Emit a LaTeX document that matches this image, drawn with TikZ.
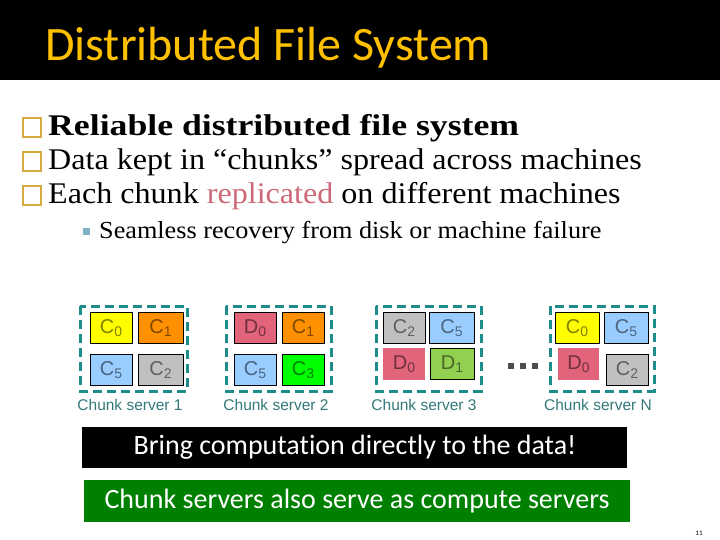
\documentclass[tikz,border=0pt]{standalone}
\usepackage{fontspec}
\usepackage{xcolor}
\newfontfamily\titlefont{Carlito}
\newfontfamily\bannerfont[Ligatures=NoCommon]{Carlito}
\newfontfamily\bodyfont[FakeStretch=1.07]{Liberation Serif}
\newfontfamily\boldbody[FakeStretch=1.19]{Liberation Serif}
\newfontfamily\cellfont{Liberation Sans}

\definecolor{titleyellow}{RGB}{255,192,0}
\definecolor{bulletgold}{RGB}{214,172,60}
\definecolor{subbullet}{RGB}{127,178,198}
\definecolor{replred}{RGB}{205,105,120}
\definecolor{srvteal}{RGB}{31,140,140}
\definecolor{lbltext}{RGB}{50,120,120}
\definecolor{cyel}{RGB}{255,255,0}
\definecolor{corange}{RGB}{255,145,0}
\definecolor{cblue}{RGB}{153,204,255}
\definecolor{cgray}{RGB}{192,192,192}
\definecolor{cred}{RGB}{226,100,122}
\definecolor{cgreen}{RGB}{0,255,0}
\definecolor{cyg}{RGB}{146,208,80}
\definecolor{boxgreen}{RGB}{0,128,0}

\tikzset{
  cell/.style={draw=black, line width=0.7pt, anchor=north west, inner sep=0pt,
    minimum width=42pt, minimum height=31pt, text=black, text opacity=0.5,
    font=\cellfont\fontsize{20}{20}\selectfont},
  srvbox/.style={draw=srvteal, line width=3pt, dash pattern=on 9pt off 5pt},
  srvlabel/.style={text=lbltext, font=\cellfont\fontsize{15.5}{15.5}\selectfont},
  bullet/.style={draw=bulletgold, line width=1.5pt},
  line/.style={anchor=base west, inner sep=0pt, font=\bodyfont\fontsize{30}{30}\selectfont},
  banner/.style={text=white, font=\bannerfont\fontsize{28}{28}\selectfont}
}

\begin{document}
\begin{tikzpicture}[x=1pt, y=-1pt]
    \useasboundingbox (0,0) rectangle (720,540);

    % Title bar
    \fill[black] (0,0) rectangle (720,80);
    \node[anchor=base west, inner sep=0pt, text=titleyellow,
          font=\titlefont\fontsize{48}{48}\selectfont] (title) at (45,61) {Distributed File System};

    % Bullets
    \draw[bullet] (23,118) rectangle (41,137);
    \node[line, font=\boldbody\bfseries\fontsize{30}{30}\selectfont] (b1) at (48,136) {Reliable distributed file system};
    \draw[bullet] (23,152) rectangle (41,171);
    \node[line] (b2) at (48,170) {Data kept in “chunks” spread across machines};
    \draw[bullet] (23,186) rectangle (41,205);
    \node[line] (b3) at (48,204) {Each chunk \textcolor{replred}{replicated} on different machines};
    \fill[subbullet] (83,228) rectangle (90,235);
    \node[line, font=\bodyfont\fontsize{24.5}{24.5}\selectfont] (b4) at (99,239) {Seamless recovery from disk or machine failure};

    % Chunk server 1
    \draw[srvbox] (80,306) rectangle (187,391);
    \node[cell, fill=cyel] (s1c0) at (90,312) {C\textsubscript{0}};
    \node[cell, fill=corange, minimum width=45pt] (s1c1) at (138,312) {C\textsubscript{1}};
    \node[cell, fill=cblue] (s1c5) at (90,354) {C\textsubscript{5}};
    \node[cell, fill=cgray, minimum width=45pt] (s1c2) at (138,354) {C\textsubscript{2}};
    \node[srvlabel] (l1) at (130,405) {Chunk server 1};

    % Chunk server 2
    \draw[srvbox] (226,306) rectangle (331,391);
    \node[cell, fill=cred] (s2d0) at (234,312) {D\textsubscript{0}};
    \node[cell, fill=corange] (s2c1) at (282,312) {C\textsubscript{1}};
    \node[cell, fill=cblue] (s2c5) at (234,354) {C\textsubscript{5}};
    \node[cell, fill=cgreen] (s2c3) at (282,354) {C\textsubscript{3}};
    \node[srvlabel] (l2) at (276,405) {Chunk server 2};

    % Chunk server 3
    \draw[srvbox] (376,306) rectangle (481,391);
    \node[cell, fill=cgray] (s3c2) at (383,312) {C\textsubscript{2}};
    \node[cell, fill=cblue, minimum width=45pt] (s3c5) at (429,312) {C\textsubscript{5}};
    \node[cell, fill=cred, draw=none, minimum height=32pt] (s3d0) at (383,348) {D\textsubscript{0}};
    \node[cell, fill=cyg, minimum width=44pt] (s3d1) at (430,348) {D\textsubscript{1}};
    \node[srvlabel] (l3) at (424,405) {Chunk server 3};

    % Dots
    \foreach \dx in {508,520,532}
        \fill[black!70] (\dx,363) rectangle ++(6,6);

    % Chunk server N
    \draw[srvbox] (550,306) rectangle (654,391);
    \node[cell, fill=cyel, minimum width=44pt] (snc0) at (555,312) {C\textsubscript{0}};
    \node[cell, fill=cblue, minimum width=44pt] (snc5) at (604,312) {C\textsubscript{5}};
    \node[cell, fill=cred, draw=none, minimum width=41pt, minimum height=32pt] (snd0) at (558,348) {D\textsubscript{0}};
    \node[cell, fill=cgray] (snc2) at (606,354) {C\textsubscript{2}};
    \node[srvlabel] (ln) at (598,405) {Chunk server N};

    % Banners
    \fill[black] (82,427) rectangle (627,468);
    \node[banner] (bring) at (355,447) {Bring computation directly to the data!};
    \fill[boxgreen] (84,480) rectangle (630,522);
    \node[banner] (compute) at (357,501) {Chunk servers also serve as compute servers};

    % Page number
    \node[font=\titlefont\fontsize{7}{7}\selectfont] (page) at (699,533) {11};
\end{tikzpicture}
\end{document}
